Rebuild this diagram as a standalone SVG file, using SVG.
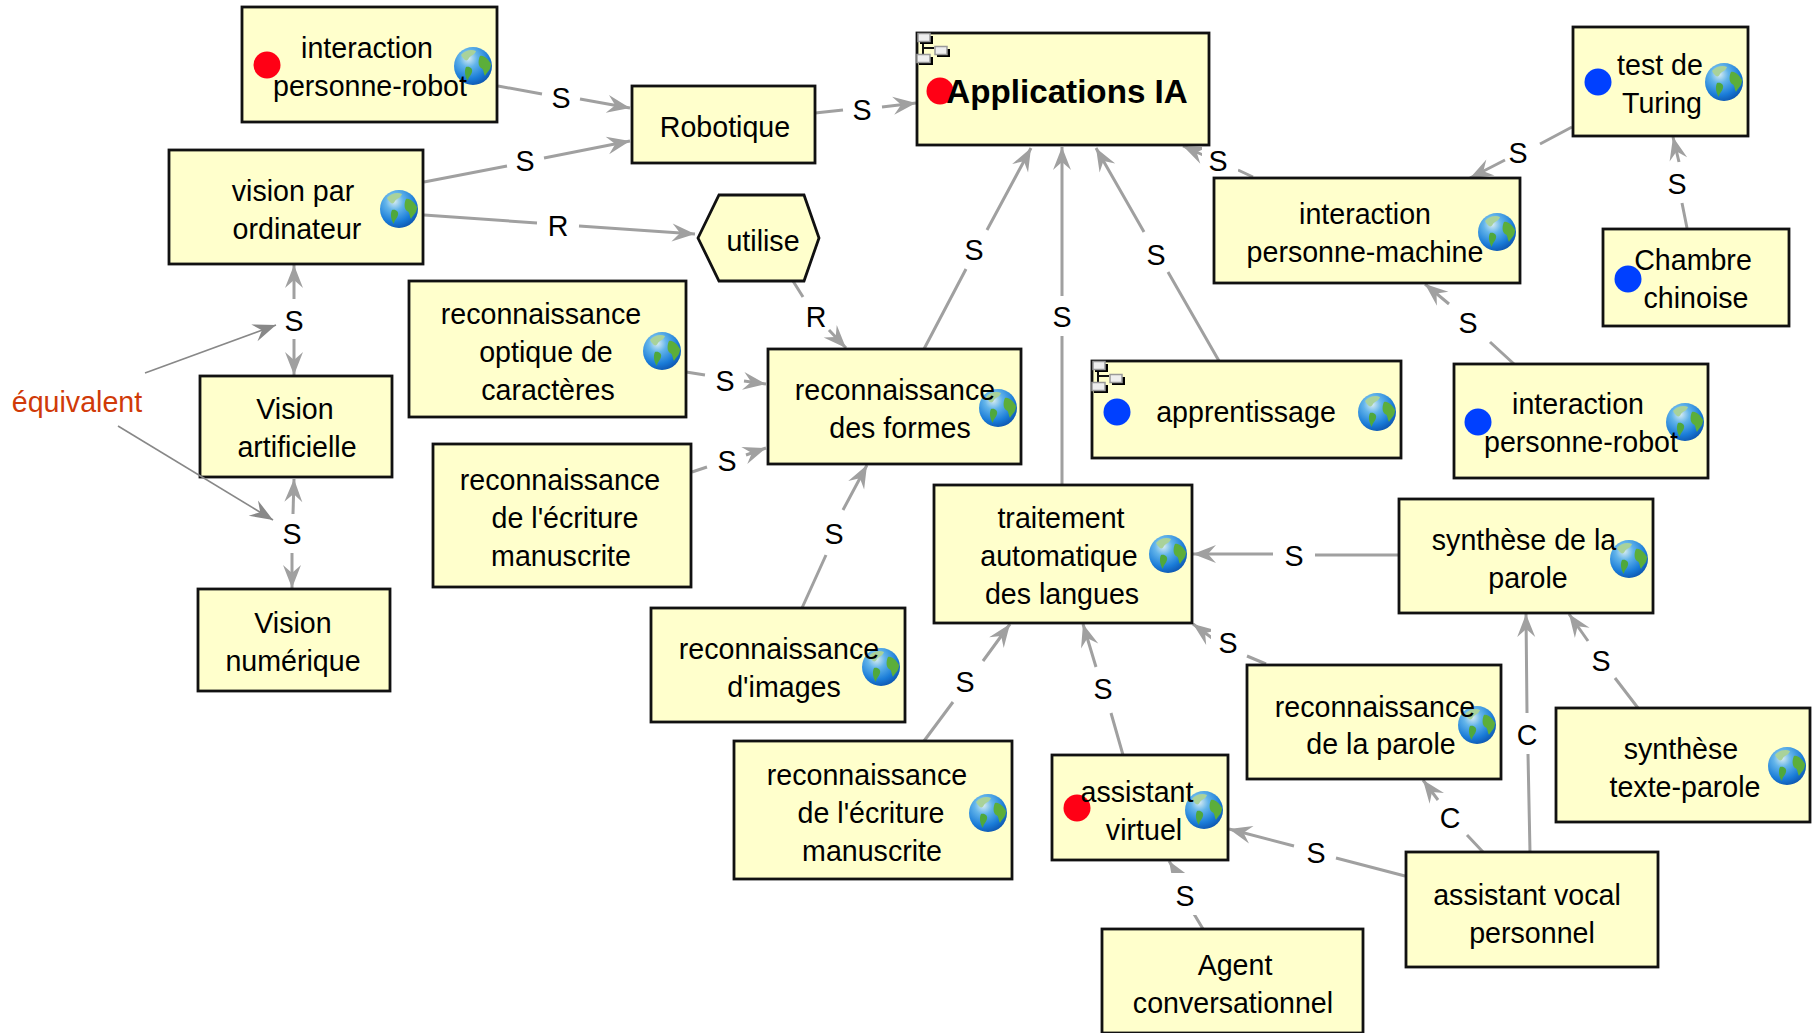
<svg xmlns="http://www.w3.org/2000/svg" width="1818" height="1033" viewBox="0 0 1818 1033">
<style>
text{font-family:"Liberation Sans",Arial,sans-serif;font-size:28.6px;text-anchor:middle;fill:#000;transform:translateY(.6px)}
.n{fill:#ffffcc;stroke:#111;stroke-width:2.8}
.e{fill:none;stroke:#a0a0a0;stroke-width:3;marker-end:url(#a)}
.t{fill:none;stroke:#888;stroke-width:1.6;marker-end:url(#a2)}
.w{fill:#fff}
.r{fill:#ff0015}
.b{fill:#0040ff}
</style>
<defs>
<marker id="a" markerUnits="userSpaceOnUse" viewBox="-25 -11 26 22" refX="0" refY="0" markerWidth="26" markerHeight="22" orient="auto"><path d="M0,0L-23,-9L-15,0L-23,9Z" fill="#a0a0a0"/></marker>
<marker id="a2" markerUnits="userSpaceOnUse" viewBox="-25 -11 26 22" refX="0" refY="0" markerWidth="26" markerHeight="22" orient="auto"><path d="M0,0L-23,-9L-15,0L-23,9Z" fill="#888"/></marker>
<radialGradient id="g" cx="0.38" cy="0.3" r="0.78"><stop offset="0" stop-color="#d8ecf2"/><stop offset="0.3" stop-color="#62b4ea"/><stop offset="0.7" stop-color="#1a7cd8"/><stop offset="1" stop-color="#0b4ea8"/></radialGradient>
<symbol id="globe" viewBox="-20 -20 40 40" width="40" height="40" overflow="visible"><circle r="19" fill="url(#g)"/><path d="M-12,-11C-8,-16 -1,-17 3,-15C2,-11 -2,-11 -4,-8C-5,-5 -8,-5 -9,-7C-10,-8 -11,-9 -12,-11Z" fill="#a9d29a"/><path d="M-7,1C-3,0 0,3 -1,6C-2,10 -5,11 -5,15C-8,11 -9,5 -7,1Z" fill="#4fa83c"/><path d="M7,-10C11,-11 15,-7 18,-2C18,4 14,6 12,10C10,6 11,3 8,2C5,0 5,-6 7,-10Z" fill="#5cae3a"/></symbol>
<symbol id="tree" viewBox="0 0 34 34" width="34" height="34" overflow="visible"><path d="M7,9V24M7,16H18" stroke="#111" stroke-width="2" fill="none"/><g fill="#000"><rect x="4" y="4" width="13" height="8"/><rect x="21" y="17" width="13" height="8"/><rect x="3" y="25" width="14" height="8"/></g><g stroke="#999" stroke-width="1.5" fill="#eee"><rect x="2" y="1.5" width="12" height="8"/><rect x="19" y="14.5" width="12" height="8"/><rect x="1" y="22.5" width="13" height="8"/></g></symbol>
</defs>
<g id="connectors">
<path class="e" d="M498,86L542,94M580,99L630,108"/><text x="561" y="107">S</text>
<path class="e" d="M424,182L507,166M544,158L630,141"/><text x="525" y="170">S</text>
<path class="e" d="M424,215L537,223M579,226L695,234"/><text x="558" y="235">R</text>
<path class="e" d="M815,113L843,110M882,107L916,103"/><text x="862" y="119">S</text>
<path class="e" d="M924,349L966,269M987,230L1031,148"/><text x="974" y="259">S</text>
<path class="e" d="M1062,485L1062,336M1062,296L1062,147"/><text x="1062" y="326">S</text>
<path class="e" d="M1219,361L1168,272M1144,232L1096,148"/><text x="1156" y="264">S</text>
<path class="e" d="M1253,177L1238,170M1203,155L1183,146"/><rect class="w" x="1202" y="140" width="36" height="40"/><text x="1218" y="170">S</text>
<path class="e" d="M1572,127L1540,144M1505,160L1470,178"/><text x="1518" y="162">S</text>
<path class="e" d="M1687,228L1682,203M1679,162L1673,137"/><text x="1677" y="193">S</text>
<path class="e" d="M1514,364L1490,342M1449,304L1425,284"/><text x="1468" y="332">S</text>
<path class="e" d="M793,281L803,297M829,330L846,348"/><text x="816" y="326">R</text>
<path class="e" d="M686,372L705,375M744,381L766,384"/><text x="725" y="390">S</text>
<path class="e" d="M692,472L707,467M746,455L766,448"/><text x="727" y="470">S</text>
<path class="e" d="M802,608L826,555M843,510L867,465"/><text x="834" y="543">S</text>
<path class="e" d="M1398,555L1315,555M1273,554L1193,554"/><text x="1294" y="565">S</text>
<path class="e" d="M1266,664L1247,656M1212,638L1193,624"/><rect class="w" x="1211" y="622" width="35" height="40"/><text x="1228" y="652">S</text>
<path class="e" d="M924,741L953,702M983,661L1010,624"/><text x="965" y="691">S</text>
<path class="e" d="M1123,755L1111,713M1096,667L1083,624"/><text x="1103" y="698">S</text>
<path class="e" d="M1203,929L1194,914M1179,877L1169,861"/><rect class="w" x="1165" y="873" width="40" height="42"/><text x="1185" y="905">S</text>
<path class="e" d="M1405,876L1336,858M1294,846L1229,829"/><text x="1316" y="862">S</text>
<path class="e" d="M1483,852L1467,835M1438,800L1423,780"/><text x="1450" y="827">C</text>
<path class="e" d="M1530,852L1528,754M1527,713L1526,614"/><text x="1527" y="744">C</text>
<path class="e" d="M1638,708L1615,678M1588,641L1569,614"/><text x="1601" y="670">S</text>
<path class="e" d="M294,299L294,265"/><path class="e" d="M294,339L294,375"/><text x="294" y="330">S</text>
<path class="e" d="M293,514L294,479"/><path class="e" d="M292,553L292,588"/><text x="292" y="543">S</text>
</g>
<g id="n-ipr1"><rect class="n" x="242" y="7" width="255" height="115"/><circle class="r" cx="267" cy="65" r="13.5"/><use href="#globe" x="453" y="46"/><text x="367" y="57">interaction</text><text x="370" y="95">personne-robot</text></g>
<g id="n-vision"><rect class="n" x="169" y="150" width="254" height="114"/><use href="#globe" x="379" y="189"/><text x="293" y="200">vision par</text><text x="297" y="238">ordinateur</text></g>
<g id="n-robotique"><rect class="n" x="632" y="86" width="183" height="77"/><text x="725" y="136">Robotique</text></g>
<g id="n-utilise"><path class="n" d="M698,238L719,195H804L819,238L804,281H719Z"/><text x="763" y="250">utilise</text></g>
<g id="n-optique"><rect class="n" x="409" y="281" width="277" height="136"/><use href="#globe" x="642" y="331"/><text x="541" y="323">reconnaissance</text><text x="546" y="361">optique de</text><text x="548" y="399">caractères</text></g>
<g id="n-ecriture1"><rect class="n" x="433" y="444" width="258" height="143"/><text x="560" y="489">reconnaissance</text><text x="565" y="527">de l'écriture</text><text x="561" y="565">manuscrite</text></g>
<g id="n-formes"><rect class="n" x="768" y="349" width="253" height="115"/><use href="#globe" x="978" y="388"/><text x="895" y="399">reconnaissance</text><text x="900" y="437">des formes</text></g>
<g id="n-artificielle"><rect class="n" x="200" y="376" width="192" height="101"/><text x="295" y="418">Vision</text><text x="297" y="456">artificielle</text></g>
<g id="n-numerique"><rect class="n" x="198" y="589" width="192" height="102"/><text x="293" y="632">Vision</text><text x="293" y="670">numérique</text></g>
<g id="n-applications"><rect class="n" x="917" y="33" width="292" height="112"/><use href="#tree" x="916" y="32"/><circle class="r" cx="940" cy="91" r="13.5"/><text x="1067" y="102" style="font-weight:bold;font-size:33.2px">Applications IA</text></g>
<g id="n-apprentissage"><rect class="n" x="1092" y="361" width="309" height="97"/><use href="#tree" x="1091" y="360"/><circle class="b" cx="1117" cy="412" r="13.5"/><use href="#globe" x="1357" y="392"/><text x="1246" y="421">apprentissage</text></g>
<g id="n-ipm"><rect class="n" x="1214" y="178" width="306" height="105"/><use href="#globe" x="1477" y="212"/><text x="1365" y="223">interaction</text><text x="1365" y="261">personne-machine</text></g>
<g id="n-turing"><rect class="n" x="1573" y="27" width="175" height="109"/><circle class="b" cx="1598" cy="82" r="13.5"/><use href="#globe" x="1704" y="62"/><text x="1660" y="74">test de</text><text x="1662" y="112">Turing</text></g>
<g id="n-chambre"><rect class="n" x="1603" y="229" width="186" height="97"/><circle class="b" cx="1628" cy="279" r="13.5"/><text x="1693" y="269">Chambre</text><text x="1696" y="307">chinoise</text></g>
<g id="n-ipr2"><rect class="n" x="1454" y="364" width="254" height="114"/><circle class="b" cx="1478" cy="422" r="13.5"/><use href="#globe" x="1665" y="402"/><text x="1578" y="413">interaction</text><text x="1581" y="451">personne-robot</text></g>
<g id="n-traitement"><rect class="n" x="934" y="485" width="258" height="138"/><use href="#globe" x="1148" y="534"/><text x="1061" y="527">traitement</text><text x="1059" y="565">automatique</text><text x="1062" y="603">des langues</text></g>
<g id="n-synthese"><rect class="n" x="1399" y="499" width="254" height="114"/><use href="#globe" x="1609" y="539"/><text x="1524" y="549">synthèse de la</text><text x="1528" y="587">parole</text></g>
<g id="n-images"><rect class="n" x="651" y="608" width="254" height="114"/><use href="#globe" x="861" y="647"/><text x="779" y="658">reconnaissance</text><text x="784" y="696">d'images</text></g>
<g id="n-parole"><rect class="n" x="1247" y="665" width="254" height="114"/><use href="#globe" x="1457" y="705"/><text x="1375" y="716">reconnaissance</text><text x="1381" y="753">de la parole</text></g>
<g id="n-texte"><rect class="n" x="1556" y="708" width="254" height="114"/><use href="#globe" x="1767" y="746"/><text x="1681" y="758">synthèse</text><text x="1685" y="796">texte-parole</text></g>
<g id="n-ecriture2"><rect class="n" x="734" y="741" width="278" height="138"/><use href="#globe" x="968" y="793"/><text x="867" y="784">reconnaissance</text><text x="871" y="822">de l'écriture</text><text x="872" y="860">manuscrite</text></g>
<g id="n-assistant"><rect class="n" x="1052" y="755" width="176" height="105"/><circle class="r" cx="1077" cy="808" r="13.5"/><use href="#globe" x="1184" y="790"/><text x="1137" y="801">assistant</text><text x="1144" y="839">virtuel</text></g>
<g id="n-agent"><rect class="n" x="1102" y="929" width="261" height="104"/><text x="1235" y="974">Agent</text><text x="1233" y="1012">conversationnel</text></g>
<g id="n-vocal"><rect class="n" x="1406" y="852" width="252" height="115"/><text x="1527" y="904">assistant vocal</text><text x="1532" y="942">personnel</text></g>
<g id="connectors-equivalent">
<path class="t" d="M145,373L276,325"/><path class="t" d="M118,426L273,520"/>
<text x="77" y="411" style="fill:#d03a08">équivalent</text>
</g>
</svg>
